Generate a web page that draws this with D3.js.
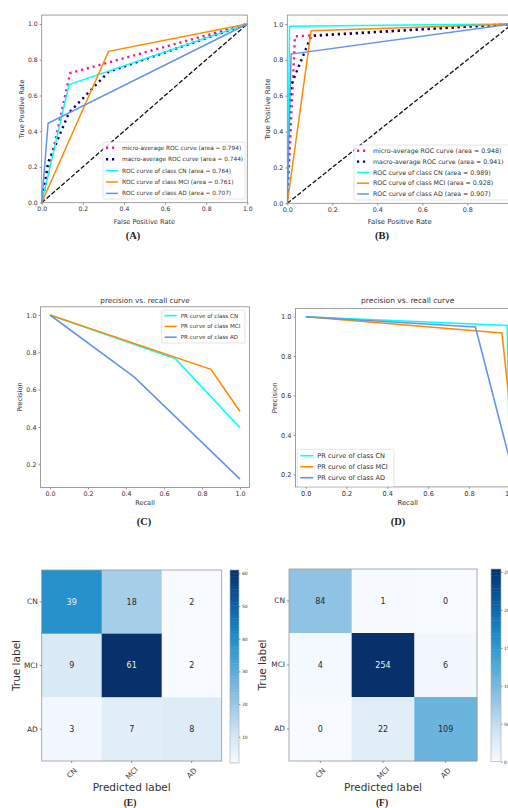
<!DOCTYPE html>
<html>
<head>
<meta charset="utf-8">
<script src="https://cdn.jsdelivr.net/npm/d3@7"></script>
<style>
  body { margin: 0; background: #fff; }
  text { font-family: "DejaVu Sans", sans-serif; fill: #333; }
  .sub { font-family: "Liberation Serif", serif; font-weight: bold; fill: #222; }
</style>
</head>
<body>
<svg id="fig" width="508" height="808"></svg>
<script>
// ---- data ----
const classes = ["CN", "MCI", "AD"];

// ROC (A): [fpr, tpr]
const rocA_micro = [[0, 0], [0.138, 0.725], [1, 1]];
const rocA_macro = [[0, 0], [0.031, 0.225], [0.133, 0.504], [0.325, 0.732], [1, 1]];
const rocA_CN = [[0, 0], [0.133, 0.661], [1, 1]];
const rocA_MCI = [[0, 0], [0.325, 0.847], [1, 1]];
const rocA_AD = [[0, 0], [0.031, 0.444], [1, 1]];
const rocA_area = [0.794, 0.744, 0.764, 0.761, 0.707];

// ROC (B)
const rocB_micro = [[0, 0], [0.034, 0.931], [1, 1]];
const rocB_macro = [[0, 0], [0.010, 0.523], [0.017, 0.659], [0.106, 0.933], [1, 1]];
const rocB_CN = [[0, 0], [0.010, 0.988], [1, 1]];
const rocB_MCI = [[0, 0], [0.106, 0.962], [1, 1]];
const rocB_AD = [[0, 0], [0.017, 0.832], [1, 1]];
const rocB_area = [0.948, 0.941, 0.989, 0.928, 0.907];

// PR (C): [recall, precision]
const prC_CN = [[0, 1], [0.661, 0.765], [1, 0.396]];
const prC_MCI = [[0, 1], [0.847, 0.709], [1, 0.483]];
const prC_AD = [[0, 1], [0.444, 0.667], [1, 0.121]];

// PR (D)
const prD_CN = [[0, 1], [0.988, 0.955], [1, 0.177]];
const prD_MCI = [[0, 1], [0.962, 0.917], [1, 0.55]];
const prD_AD = [[0, 1], [0.832, 0.948], [1, 0.273]];

// confusion matrices
const cmE = [[39, 18, 2], [9, 61, 2], [3, 7, 8]];
const cmF = [[84, 1, 0], [4, 254, 6], [0, 22, 109]];
const cbTicksE = [10, 20, 30, 40, 50, 60];
const cbTicksF = [0, 50, 100, 150, 200, 250];

const rocTicks = [0, 0.2, 0.4, 0.6, 0.8, 1.0];
const prTicksY = [0.2, 0.4, 0.6, 0.8, 1.0];

const svg = d3.select("#fig");
const fmt = d3.format(".1f");
let clipN = 0;

// roughly matplotlib Blues, the picture is a bit more saturated
const blues = d3.piecewise(d3.interpolateRgb, ["#f7fbff", "#cde2f2", "#8ec2e3", "#4fa9d8", "#1a8ac8", "#0b5ba3", "#08306b"]);

function styleAxis(g, fs) {
  g.select(".domain").remove();
  g.selectAll(".tick line").attr("stroke", "#666").attr("stroke-width", 0.7);
  g.selectAll(".tick text").attr("font-size", fs).attr("fill", "#444");
}

function lineChart(c) {
  const x = d3.scaleLinear().domain(c.xd).range([c.x0, c.x1]);
  const y = d3.scaleLinear().domain(c.yd).range([c.y0, c.y1]);
  const g = svg.append("g");
  const id = "clip" + (clipN++);
  g.append("clipPath").attr("id", id).append("rect")
    .attr("x", x(c.xd[0])).attr("y", y(c.yd[1]))
    .attr("width", x(c.xd[1]) - x(c.xd[0])).attr("height", y(c.yd[0]) - y(c.yd[1]));

  const ax = g.append("g").attr("transform", `translate(0,${y(c.yd[0])})`)
    .call(d3.axisBottom(x).tickValues(c.xt).tickFormat(fmt).tickSize(2).tickPadding(2));
  styleAxis(ax, c.tfs);
  const ay = g.append("g").attr("transform", `translate(${x(c.xd[0])},0)`)
    .call(d3.axisLeft(y).tickValues(c.yt).tickFormat(fmt).tickSize(2).tickPadding(2));
  styleAxis(ay, c.tfs);

  const plot = g.append("g").attr("clip-path", `url(#${id})`);
  const line = d3.line().x(d => x(d[0])).y(d => y(d[1]));
  if (c.diag) {
    plot.append("path").attr("d", line([[0, 0], [1, 1]])).attr("fill", "none")
      .attr("stroke", "#111").attr("stroke-width", 1.3).attr("stroke-dasharray", "4.5,2");
  }
  c.series.forEach(s => {
    plot.append("path").attr("d", line(s.data)).attr("fill", "none")
      .attr("stroke", s.color).attr("stroke-width", s.w)
      .attr("stroke-dasharray", s.dash || null);
  });

  // frame
  g.append("rect").attr("x", x(c.xd[0])).attr("y", y(c.yd[1]))
    .attr("width", x(c.xd[1]) - x(c.xd[0])).attr("height", y(c.yd[0]) - y(c.yd[1]))
    .attr("fill", "none").attr("stroke", "#888").attr("stroke-width", 0.8);

  const cx = (x(c.xd[0]) + x(c.xd[1])) / 2;
  const cy = (y(c.yd[0]) + y(c.yd[1])) / 2;
  if (c.title) {
    g.append("text").attr("x", cx).attr("y", c.titleY).attr("text-anchor", "middle")
      .attr("font-size", c.lfs + 0.6).text(c.title);
  }
  g.append("text").attr("x", cx).attr("y", c.xlabY).attr("text-anchor", "middle")
    .attr("font-size", c.lfs).text(c.xlab);
  g.append("text").attr("transform", `translate(${c.ylabX},${cy}) rotate(-90)`)
    .attr("text-anchor", "middle").attr("font-size", c.lfs).text(c.ylab);

  // legend
  const L = c.legend;
  const lg = g.append("g");
  lg.append("rect").attr("x", L.x).attr("y", L.y).attr("width", L.w).attr("height", L.h)
    .attr("rx", 1.5).attr("fill", "#fff").attr("fill-opacity", 0.85)
    .attr("stroke", "#d5d5d5").attr("stroke-width", 0.6);
  c.series.forEach((s, i) => {
    const yy = L.y + L.pad + i * L.step;
    lg.append("line").attr("x1", L.x + 3).attr("x2", L.x + 3 + L.hl).attr("y1", yy).attr("y2", yy)
      .attr("stroke", s.color).attr("stroke-width", s.w).attr("stroke-dasharray", s.dash || null);
    lg.append("text").attr("x", L.x + L.hl + 7).attr("y", yy).attr("dy", "0.35em")
      .attr("font-size", L.fs).text(s.label);
  });

  g.append("text").attr("class", "sub").attr("x", c.subX).attr("y", c.subY)
    .attr("text-anchor", "middle").attr("font-size", 10.5).text(c.sub);
}

function rocSeries(micro, macro, cn, mci, ad, area) {
  return [
    { data: micro, color: "deeppink", w: 2.4, dash: "2.2,3.8", label: `micro-average ROC curve (area = ${area[0].toFixed(3)})` },
    { data: macro, color: "navy", w: 2.4, dash: "2.2,3.8", label: `macro-average ROC curve (area = ${area[1].toFixed(3)})` },
    { data: cn, color: "aqua", w: 1.5, label: `ROC curve of class CN (area = ${area[2].toFixed(3)})` },
    { data: mci, color: "darkorange", w: 1.5, label: `ROC curve of class MCI (area = ${area[3].toFixed(3)})` },
    { data: ad, color: "cornflowerblue", w: 1.5, label: `ROC curve of class AD (area = ${area[4].toFixed(3)})` }
  ];
}

function prSeries(cn, mci, ad) {
  return [
    { data: cn, color: "aqua", w: 1.6, label: "PR curve of class CN" },
    { data: mci, color: "darkorange", w: 1.6, label: "PR curve of class MCI" },
    { data: ad, color: "cornflowerblue", w: 1.6, label: "PR curve of class AD" }
  ];
}

// (A)
lineChart({
  xd: [0, 1], yd: [0, 1.05], x0: 41.7, x1: 247.3, y0: 202.7, y1: 202.7 - 178.7 * 1.05,
  xt: rocTicks, yt: rocTicks, tfs: 6.1, lfs: 6.6, diag: true,
  series: rocSeries(rocA_micro, rocA_macro, rocA_CN, rocA_MCI, rocA_AD, rocA_area),
  xlab: "False Positive Rate", ylab: "True Positive Rate", xlabY: 224, ylabX: 24,
  legend: { x: 103, y: 142, w: 142, h: 57, pad: 5.8, step: 11.4, hl: 12, fs: 5.8 },
  sub: "(A)", subX: 133, subY: 239
});

// (B)
lineChart({
  xd: [0, 1], yd: [0, 1.05], x0: 287.3, x1: 512.3, y0: 203.3, y1: 203.3 - 179.3 * 1.05,
  xt: rocTicks, yt: rocTicks, tfs: 6.4, lfs: 6.9, diag: true,
  series: rocSeries(rocB_micro, rocB_macro, rocB_CN, rocB_MCI, rocB_AD, rocB_area),
  xlab: "False Positive Rate", ylab: "True Positive Rate", xlabY: 224, ylabX: 270,
  legend: { x: 354, y: 145, w: 162, h: 55, pad: 5.8, step: 10.8, hl: 12, fs: 6.25 },
  sub: "(B)", subX: 382, subY: 239
});

// (C)
lineChart({
  xd: [-0.05, 1.05], yd: [0.076, 1.044], x0: 40.5, x1: 249.5,
  y0: 464.3 + 0.124 * 186.7, y1: 315 - 0.044 * 186.7,
  xt: rocTicks, yt: prTicksY, tfs: 6.4, lfs: 6.6, title: "precision vs. recall curve", titleY: 303,
  series: prSeries(prC_CN, prC_MCI, prC_AD),
  xlab: "Recall", ylab: "Precision", xlabY: 505, ylabX: 22,
  legend: { x: 161.7, y: 310, w: 83.3, h: 33, pad: 5.6, step: 10.8, hl: 12, fs: 5.6 },
  sub: "(C)", subX: 144, subY: 525
});

// (D)
lineChart({
  xd: [-0.05, 1.05], yd: [0.136, 1.041], x0: 295.5, x1: 519.9,
  y0: 316.7 + 0.864 * 197, y1: 316.7 - 0.041 * 197,
  xt: rocTicks, yt: prTicksY, tfs: 6.6, lfs: 6.9, title: "precision vs. recall curve", titleY: 303,
  series: prSeries(prD_CN, prD_MCI, prD_AD),
  xlab: "Recall", ylab: "Precision", xlabY: 505, ylabX: 277,
  legend: { x: 297.3, y: 449.3, w: 96.7, h: 37.4, pad: 6.4, step: 11, hl: 13, fs: 6.6 },
  sub: "(D)", subX: 398, subY: 525
});

// confusion matrix
function confusion(c) {
  const x = d3.scaleBand().domain(classes).range([c.x0, c.x1]);
  const y = d3.scaleBand().domain(classes).range([c.y0, c.y1]);
  const vmax = d3.max(c.m.flat()), vmin = d3.min(c.m.flat());
  const col = d3.scaleSequential(blues).domain([vmin, vmax]);
  const g = svg.append("g");
  const cells = [];
  c.m.forEach((row, i) => row.forEach((v, j) => cells.push({ r: classes[i], c: classes[j], v })));
  g.selectAll("rect.cell").data(cells).enter().append("rect").attr("class", "cell")
    .attr("x", d => x(d.c)).attr("y", d => y(d.r))
    .attr("width", x.bandwidth() + 0.3).attr("height", y.bandwidth() + 0.3)
    .attr("fill", d => col(d.v));
  g.selectAll("text.val").data(cells).enter().append("text").attr("class", "val")
    .attr("x", d => x(d.c) + x.bandwidth() / 2).attr("y", d => y(d.r) + y.bandwidth() / 2)
    .attr("dy", "0.35em").attr("text-anchor", "middle").attr("font-size", 8)
    .style("fill", d => d.v > (vmax + vmin) / 2 ? "#e8f0f8" : "#2a2a2a")
    .text(d => d.v);
  g.append("rect").attr("x", c.x0).attr("y", c.y0).attr("width", c.x1 - c.x0).attr("height", c.y1 - c.y0)
    .attr("fill", "none").attr("stroke", "#999").attr("stroke-width", 0.8);

  const ay = g.append("g").attr("transform", `translate(${c.x0},0)`)
    .call(d3.axisLeft(y).tickSize(2).tickPadding(2));
  styleAxis(ay, 7.4);
  const ax = g.append("g").attr("transform", `translate(0,${c.y1})`)
    .call(d3.axisBottom(x).tickSize(2).tickFormat(""));
  styleAxis(ax, 7.4);
  g.selectAll("text.xt").data(classes).enter().append("text").attr("class", "xt")
    .attr("transform", d => `translate(${x(d) + x.bandwidth() / 2},${c.y1 + 12}) rotate(-45)`)
    .attr("text-anchor", "middle").attr("dy", "0.35em").attr("font-size", 7.4)
    .style("fill", "#444").text(d => d);

  g.append("text").attr("x", (c.x0 + c.x1) / 2).attr("y", c.y1 + 30).attr("text-anchor", "middle")
    .attr("font-size", 10.5).text("Predicted label");
  g.append("text").attr("transform", `translate(${c.ylabX},${(c.y0 + c.y1) / 2}) rotate(-90)`)
    .attr("text-anchor", "middle").attr("font-size", 10.5).text("True label");

  // colorbar
  const cb = d3.scaleLinear().domain([vmin, vmax]).range([c.cbY1, c.cbY0]);
  const steps = d3.range(0, 60);
  g.selectAll("rect.cb").data(steps).enter().append("rect").attr("class", "cb")
    .attr("x", c.cbX).attr("width", c.cbW)
    .attr("y", i => cb(vmin + (vmax - vmin) * (i + 1) / 60))
    .attr("height", (c.cbY1 - c.cbY0) / 60 + 0.4)
    .attr("fill", i => col(vmin + (vmax - vmin) * (i + 0.5) / 60));
  g.append("rect").attr("x", c.cbX).attr("y", c.cbY0).attr("width", c.cbW).attr("height", c.cbY1 - c.cbY0)
    .attr("fill", "none").attr("stroke", "#aaa").attr("stroke-width", 0.6);
  const ac = g.append("g").attr("transform", `translate(${c.cbX + c.cbW},0)`)
    .call(d3.axisRight(cb).tickValues(c.cbt).tickSize(1.5).tickPadding(1.5));
  styleAxis(ac, 4.5);

  g.append("text").attr("class", "sub").attr("x", c.subX).attr("y", c.subY)
    .attr("text-anchor", "middle").attr("font-size", 9.5).text(c.sub);
}

confusion({ m: cmE, x0: 41.7, x1: 221.7, y0: 570, y1: 761, ylabX: 20, cbX: 230, cbW: 9, cbY0: 570, cbY1: 763, cbt: cbTicksE, sub: "(E)", subX: 130, subY: 806 });
confusion({ m: cmF, x0: 289, x1: 477, y0: 569, y1: 761, ylabX: 266, cbX: 491, cbW: 10, cbY0: 569, cbY1: 761.7, cbt: cbTicksF, sub: "(F)", subX: 382, subY: 806 });
</script>
</body>
</html>
